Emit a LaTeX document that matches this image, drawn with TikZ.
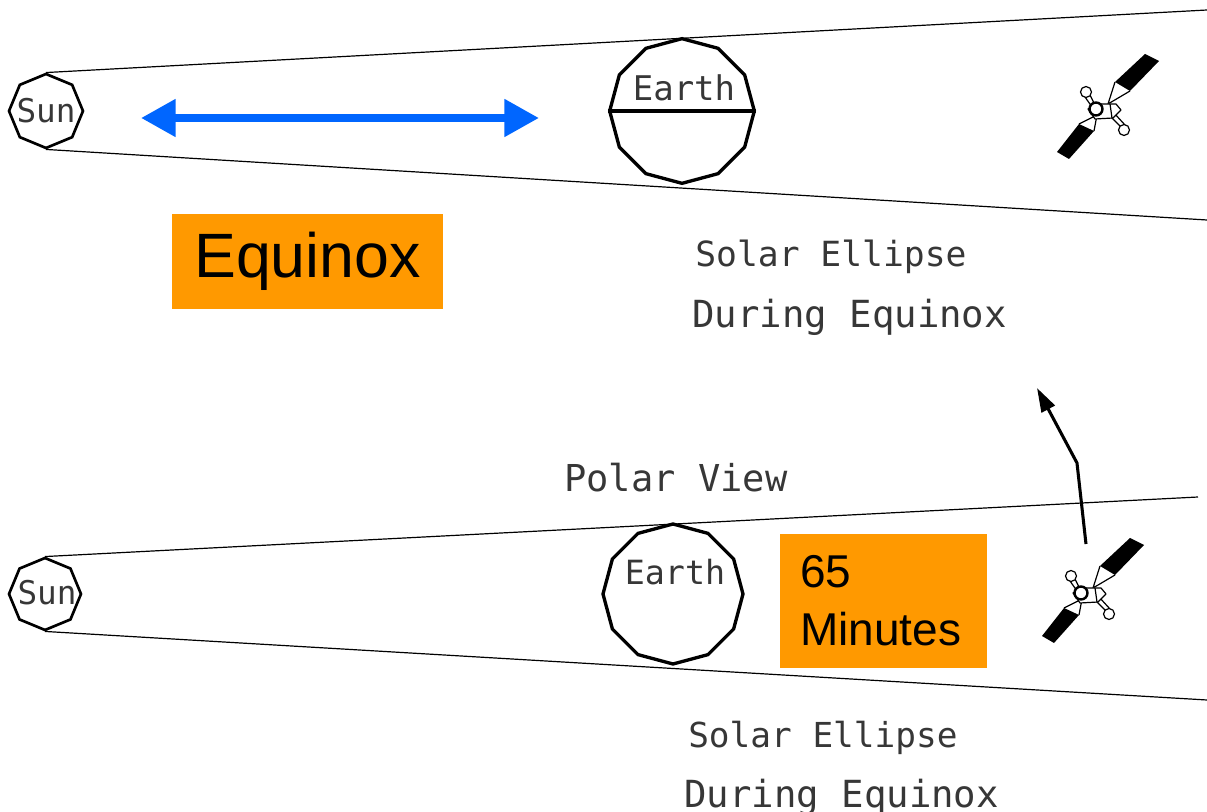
\documentclass[tikz,border=0pt]{standalone}
\usepackage{fontspec}
\newfontfamily\cadfont{DejaVu Sans Mono}
\newfontfamily\arialfont{Liberation Sans}
\usetikzlibrary{shapes.geometric,arrows.meta}
\definecolor{eqorange}{RGB}{255,153,0}
\definecolor{eqblue}{RGB}{0,102,255}
\definecolor{cadgray}{RGB}{55,55,55}
\tikzset{
  cone/.style={line width=0.9pt},
  sunpoly/.style={draw, regular polygon, regular polygon sides=8, shape border rotate=22.5, inner sep=0pt, line width=2pt},
  earthpoly/.style={draw, regular polygon, regular polygon sides=12, shape border rotate=15, inner sep=0pt, line width=2.5pt},
  cadtext/.style={font=\cadfont, text=cadgray, inner sep=0pt},
  orangebox/.style={fill=eqorange, font=\arialfont, text=black, inner sep=0pt},
  satellite/.pic={
    \begin{scope}[line width=0.9pt, line join=round]
      \fill (19,-27) -- (34,-18) -- (63,-48) -- (49,-55) -- cycle;
      \fill (-17,15) -- (-2,22) -- (-27,50) -- (-39,43) -- cycle;
      \draw (19,-27) -- (12,-5) -- (34,-18);
      \draw (-17,15) -- (1,6) -- (-2,22);
      \draw (-6,-14) -- (-1,-4) (-11,-12) -- (-4,-2);
      \draw (13,6) -- (25,18) (18,4) -- (29,16);
      \draw[fill=white] (-8,0) -- (2,-5) -- (20,-5) -- (25,1) -- (17,9) -- (-1,10) -- cycle;
      \draw (14,-5) -- (16,9);
      \draw[fill=white] (-10,-17) circle (5.5);
      \draw[fill=white] (28,21) circle (5.5);
      \draw[fill=white, line width=1.8pt] (0,0) circle (6.5);
    \end{scope}
  }
}
\begin{document}
\begin{tikzpicture}[x=0.75pt,y=-0.75pt]
\useasboundingbox (0,0) rectangle (1207,812);

% ---------- top view ----------
\node[sunpoly, minimum size=55.5pt] (sun1) at (46,111) {};
\node[cadtext, font=\cadfont\fontsize{24.5pt}{26pt}\selectfont] (sunlab1) at (46,111) {Sun};
\node[earthpoly, minimum size=108.5pt] (earth1) at (682,111) {};
\draw[line width=3pt] (earth1.180) -- (earth1.0);
\node[cadtext, font=\cadfont\fontsize{25.5pt}{27pt}\selectfont] (earthlab1) at (684,88) {Earth};

\coordinate (c1a) at (1207,10);
\coordinate (c1b) at (1207,220);
\draw[cone] (sun1.90) -- (c1a);
\draw[cone] (sun1.270) -- (c1b);

\coordinate (ba) at (141,118);
\coordinate (bb) at (539,118);
\draw[eqblue, line width=6pt, {Triangle[length=26pt,width=27pt]}-{Triangle[length=26pt,width=27pt]}] (ba) -- (bb);

\node[orangebox, minimum width=203.25pt, minimum height=71.25pt, font=\arialfont\fontsize{47pt}{56pt}\selectfont] (eqbox) at (307.5,261.5) {Equinox};

\pic (sat1) at (1096,109) {satellite};

\node[cadtext, anchor=base west, font=\cadfont\fontsize{26pt}{30pt}\selectfont] (sol1) at (695,267) {Solar Ellipse};
\node[cadtext, anchor=base west, font=\cadfont\fontsize{28pt}{30pt}\selectfont] (dur1) at (692,328) {During Equinox};

% ---------- polar view ----------
\node[cadtext, anchor=base west, font=\cadfont\fontsize{27.8pt}{30pt}\selectfont] (polar) at (564,492) {Polar View};

\coordinate (ar0) at (1086,544);
\coordinate (ar1) at (1077,463);
\coordinate (ar2) at (1037,388);
\draw[line width=2.3pt, line join=round, -{Triangle[length=18pt,width=11pt]}] (ar0) -- (ar1) -- (ar2);

\node[sunpoly, minimum size=54pt] (sun2) at (45,594) {};
\node[cadtext, font=\cadfont\fontsize{24.5pt}{26pt}\selectfont] (sunlab2) at (47,593) {Sun};
\node[earthpoly, minimum size=105pt] (earth2) at (673,594) {};
\node[cadtext, font=\cadfont\fontsize{25pt}{27pt}\selectfont] (earthlab2) at (675,572) {Earth};

\coordinate (c2a) at (1198,497);
\coordinate (c2b) at (1207,700);
\draw[cone] (sun2.90) -- (c2a);
\draw[cone] (sun2.270) -- (c2b);

\node[orangebox, minimum width=155.25pt, minimum height=100.5pt, text width=125.25pt, align=left, font=\arialfont\fontsize{34.5pt}{43.3pt}\selectfont] (minbox) at (883.5,601) {65\\Minutes};

\pic (sat2) at (1081,593) {satellite};

\node[cadtext, anchor=base west, font=\cadfont\fontsize{25.8pt}{30pt}\selectfont] (sol2) at (688,747) {Solar Ellipse};
\node[cadtext, anchor=base west, font=\cadfont\fontsize{28pt}{30pt}\selectfont] (dur2) at (684,807) {During Equinox};
\end{tikzpicture}
\end{document}
